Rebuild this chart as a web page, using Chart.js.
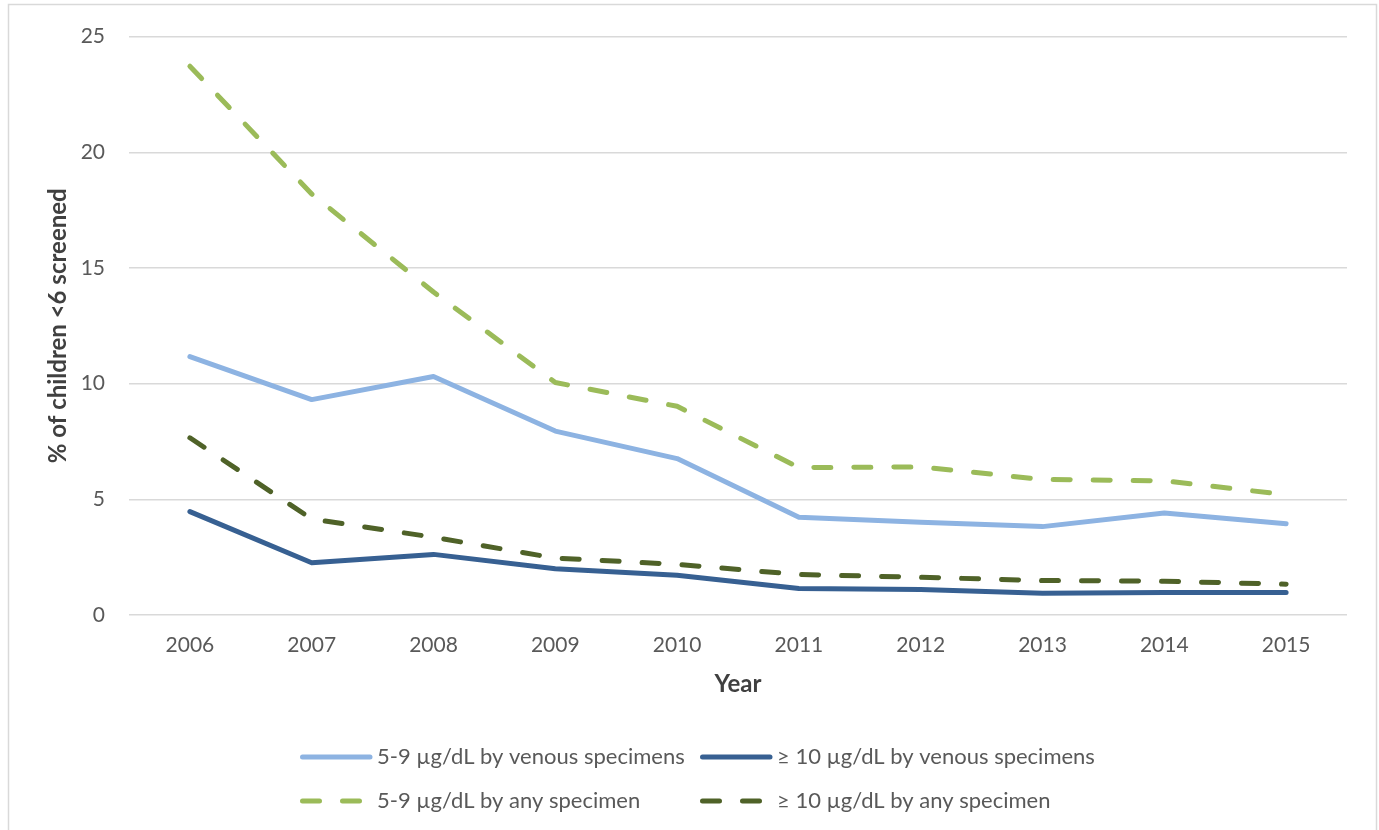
<!DOCTYPE html>
<html>
<head>
<meta charset="utf-8">
<script src="https://cdn.jsdelivr.net/npm/chart.js@4.4.1/dist/chart.umd.min.js"></script>
<style>
  html, body { margin: 0; padding: 0; background: #ffffff; }
  #wrap { position: relative; width: 1379px; height: 830px; }
</style>
</head>
<body>
<div id="wrap"><canvas id="chart" width="1379" height="830"></canvas></div>
<script>
// Years on the x axis
const years = ['2006', '2007', '2008', '2009', '2010', '2011', '2012', '2013', '2014', '2015'];

// Percentage of screened children under 6 with elevated blood lead
const venous5to9 = [11.17, 9.31, 10.31, 7.95, 6.76, 4.22, 4.01, 3.82, 4.41, 3.94];
const venous10plus = [4.47, 2.26, 2.62, 2.0, 1.72, 1.15, 1.1, 0.94, 0.97, 0.97];
const any5to9 = [23.72, 18.2, 13.96, 10.05, 9.02, 6.37, 6.4, 5.86, 5.8, 5.2];
const any10plus = [7.66, 4.15, 3.36, 2.46, 2.19, 1.75, 1.63, 1.49, 1.46, 1.33];

// Series names
const seriesNames = [
  '5-9 µg/dL by venous specimens',
  '≥ 10 µg/dL by venous specimens',
  '5-9 µg/dL by any specimen',
  '≥ 10 µg/dL by any specimen'
];

// Y axis ticks
const yTicks = [0, 5, 10, 15, 20, 25];

const FONT = 'Lato, "Liberation Sans", sans-serif';
const TEXT = '#595959';
const DASH = [17, 23];

function series(label, data, color, dashed) {
  return {
    label, data,
    borderColor: color,
    backgroundColor: color,
    borderWidth: 5,
    borderDash: dashed ? DASH : [],
    borderCapStyle: 'round',
    borderJoinStyle: 'round',
    pointRadius: 0,
    pointHoverRadius: 0,
    tension: 0,
    fill: false
  };
}

// Outer frame of the chart
const framePlugin = {
  id: 'frame',
  beforeDraw(chart) {
    const ctx = chart.ctx;
    ctx.save();
    ctx.fillStyle = '#ffffff';
    ctx.fillRect(0, 0, chart.width, chart.height);
    ctx.strokeStyle = '#d9d9d9';
    ctx.lineWidth = 1.5;
    ctx.strokeRect(8.5, 4.5, 1368, 840);
    ctx.restore();
  }
};

// Two-column legend below the plot
const gridLegend = {
  id: 'gridLegend',
  afterDraw(chart) {
    const ctx = chart.ctx;
    const cols = [300, 700];
    const rows = [757, 801];
    ctx.save();
    chart.data.datasets.forEach((ds, i) => {
      const x = cols[i % 2];
      const y = rows[Math.floor(i / 2)];
      ctx.strokeStyle = ds.borderColor;
      ctx.lineWidth = ds.borderWidth;
      ctx.lineCap = 'round';
      ctx.setLineDash(ds.borderDash || []);
      ctx.beginPath();
      ctx.moveTo(x + 2.5, y);
      ctx.lineTo(x + 70, y);
      ctx.stroke();
      ctx.setLineDash([]);
      ctx.fillStyle = TEXT;
      ctx.font = '22px ' + FONT;
      ctx.textBaseline = 'middle';
      ctx.textAlign = 'left';
      ctx.fillText(ds.label, x + 77, y);
    });
    ctx.restore();
  }
};

new Chart(document.getElementById('chart'), {
  type: 'line',
  data: {
    labels: years,
    datasets: [
      series(seriesNames[0], venous5to9, '#8db3e2', false),
      series(seriesNames[1], venous10plus, '#376092', false),
      series(seriesNames[2], any5to9, '#9bbb59', true),
      series(seriesNames[3], any10plus, '#4f6228', true)
    ]
  },
  options: {
    responsive: false,
    animation: false,
    layout: { padding: { top: 31, right: 32, bottom: 115, left: 0 } },
    plugins: {
      legend: { display: false },
      tooltip: { enabled: false }
    },
    scales: {
      x: {
        offset: true,
        grid: { display: false, drawTicks: false },
        border: { display: false },
        ticks: { color: TEXT, font: { family: FONT, size: 21 }, padding: 18, maxRotation: 0 },
        title: { display: true, text: 'Year', color: '#404040', font: { family: FONT, size: 24, weight: 'bold' }, padding: { top: 0, bottom: 16 } },
        afterFit(scale) { scale.height = 100; }
      },
      y: {
        min: 0, max: 25,
        afterBuildTicks(scale) { scale.ticks = yTicks.map(v => ({ value: v })); },
        grid: { color: '#d9d9d9', lineWidth: 1.5, drawTicks: false },
        border: { display: false },
        ticks: { color: TEXT, font: { family: FONT, size: 21 }, padding: 24 },
        title: { display: true, text: '% of children <6 screened', color: '#404040', font: { family: FONT, size: 24, weight: 'bold' }, padding: { top: 44, bottom: 0 } },
        afterFit(scale) { scale.width = 129; }
      }
    }
  },
  plugins: [framePlugin, gridLegend]
});
</script>
</body>
</html>
